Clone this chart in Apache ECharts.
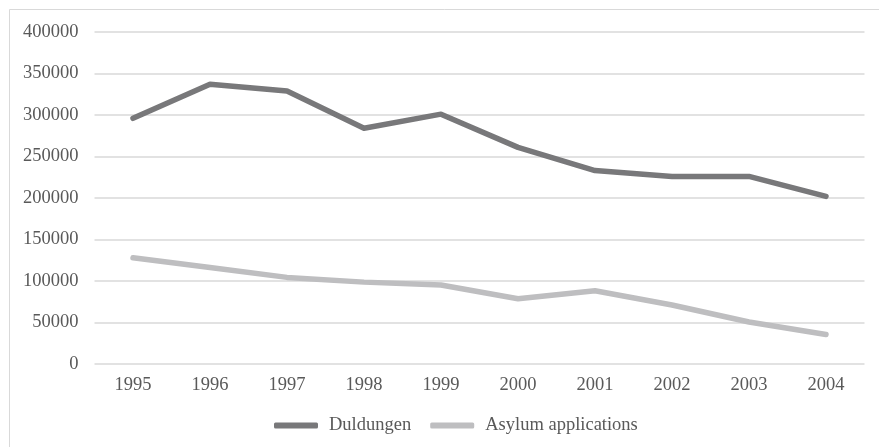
<!DOCTYPE html>
<html>
<head>
<meta charset="utf-8">
<script src="https://cdn.jsdelivr.net/npm/echarts@6/dist/echarts.min.js"></script>
<style>
  html, body { margin: 0; padding: 0; background: #fff; }
  #chart { width: 879px; height: 447px; }
</style>
</head>
<body>
<div id="chart"></div>
<script>
// Germany: tolerated persons (Duldungen) and asylum applications, 1995–2004
const years = ['1995', '1996', '1997', '1998', '1999', '2000', '2001', '2002', '2003', '2004'];
const duldungen = [296000, 337000, 329000, 284000, 301000, 261000, 233000, 226000, 226000, 202000];
const asylumApplications = [127937, 116367, 104353, 98644, 95113, 78564, 88287, 71127, 50563, 35607];

const textColor = '#595959';
const fontFamily = '"Liberation Serif", "Times New Roman", serif';
const fontSize = 18.5;

const chart = echarts.init(document.getElementById('chart'), null, { renderer: 'canvas' });

chart.setOption({
  backgroundColor: '#ffffff',
  animation: false,
  graphic: [{
    type: 'rect',
    shape: { x: 9.5, y: 9.5, width: 900, height: 460 },
    style: { fill: 'none', stroke: '#d9d9d9', lineWidth: 1 },
    silent: true
  }],
  grid: { left: 94.5, right: 14.5, top: 32, bottom: 83, containLabel: false },
  legend: {
    top: 416,
    left: 274,
    padding: 0,
    itemWidth: 44,
    itemHeight: 6,
    itemGap: 19,
    textStyle: { color: textColor, fontFamily: fontFamily, fontSize: fontSize, padding: [0, 0, 0, 6] },
    data: [
      { name: 'Duldungen', icon: 'roundRect' },
      { name: 'Asylum applications', icon: 'roundRect' }
    ]
  },
  xAxis: {
    type: 'category',
    data: years,
    boundaryGap: true,
    axisLine: { show: false },
    axisTick: { show: false },
    axisLabel: { color: textColor, fontFamily: fontFamily, fontSize: fontSize, margin: 12 }
  },
  yAxis: {
    type: 'value',
    min: 0,
    max: 400000,
    interval: 50000,
    axisLine: { show: false },
    axisTick: { show: false },
    splitLine: { lineStyle: { color: '#d9d9d9', width: 1.5 } },
    axisLabel: {
      color: textColor, fontFamily: fontFamily, fontSize: fontSize, margin: 16,
      formatter: (v) => String(v)
    }
  },
  series: [
    {
      name: 'Duldungen',
      type: 'line',
      data: duldungen,
      symbol: 'none',
      color: '#78787a',
      lineStyle: { width: 5.5, color: '#78787a', cap: 'round', join: 'round' }
    },
    {
      name: 'Asylum applications',
      type: 'line',
      data: asylumApplications,
      symbol: 'none',
      color: '#bebec0',
      lineStyle: { width: 5.5, color: '#bebec0', cap: 'round', join: 'round' }
    }
  ]
});
</script>
</body>
</html>
